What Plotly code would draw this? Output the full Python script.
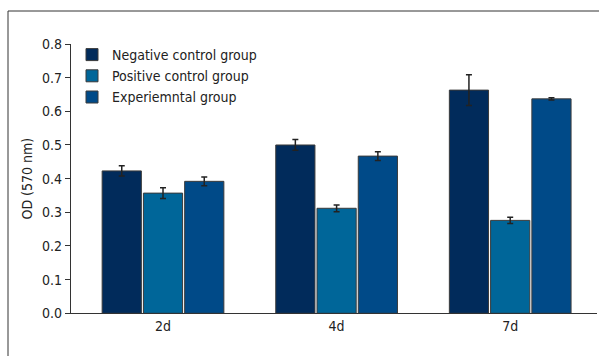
import plotly.graph_objects as go

# OD readings at 570 nm, mean and error per time point
days = ["2d", "4d", "7d"]
negative_mean = [0.423, 0.500, 0.663]
negative_err = [0.015, 0.016, 0.046]
positive_mean = [0.357, 0.312, 0.276]
positive_err = [0.016, 0.010, 0.009]
experimental_mean = [0.392, 0.467, 0.637]
experimental_err = [0.013, 0.013, 0.003]

series = [
    ("Negative control group", negative_mean, negative_err, "#012b5b"),
    ("Positive control group", positive_mean, positive_err, "#006699"),
    ("Experiemntal group", experimental_mean, experimental_err, "#004a88"),
]

W, H = 599, 356
FONT = "DejaVu Sans Condensed, Liberation Sans Narrow, sans-serif"

fig = go.Figure()
for name, mean, err, color in series:
    fig.add_trace(go.Bar(
        x=days, y=mean, name=name,
        marker=dict(color=color, line=dict(color="#3a3a3a", width=1)),
        error_y=dict(type="data", array=err, visible=True,
                     color="#222222", thickness=1.5, width=3),
    ))

# axis placement in pixels
x_left, x_right = 71, 597
y_bottom, y_top = 313.3, 44

fig.update_layout(
    width=W, height=H,
    margin=dict(l=0, r=0, t=0, b=0),
    paper_bgcolor="white", plot_bgcolor="white",
    barmode="group", bargap=0.287, bargroupgap=0.05,
    font=dict(family=FONT, size=14, color="#222222"),
    showlegend=True,
    legend=dict(x=72 / W, y=1 - 39 / H, xanchor="left", yanchor="top",
                bgcolor="rgba(0,0,0,0)", font=dict(size=14),
                itemwidth=30, tracegroupgap=0),
    xaxis=dict(domain=[x_left / W, x_right / W], range=[-0.53, 2.50],
               showline=True, linecolor="#333333", linewidth=1.3,
               ticks="", showgrid=False, automargin=False,
               tickfont=dict(size=14)),
    yaxis=dict(domain=[1 - y_bottom / H, 1 - y_top / H], range=[0, 0.8],
               tickvals=[0, 0.1, 0.2, 0.3, 0.4, 0.5, 0.6, 0.7, 0.8],
               tickformat=".1f",
               showline=True, linecolor="#333333", linewidth=1.3,
               ticks="outside", ticklen=5, tickcolor="#333333",
               showgrid=False, zeroline=False, automargin=False,
               tickfont=dict(size=14),
               title=dict(text="OD (570 nm)", font=dict(size=14), standoff=6)),
)

# cropped outer frame: left and top edges
fig.add_shape(type="line", xref="paper", yref="paper",
              x0=8 / W, x1=8 / W, y0=0, y1=1 - 11 / H,
              line=dict(color="#333333", width=1))
fig.add_shape(type="line", xref="paper", yref="paper",
              x0=8 / W, x1=1, y0=1 - 11 / H, y1=1 - 11 / H,
              line=dict(color="#333333", width=1))

fig.write_html("out.html")
